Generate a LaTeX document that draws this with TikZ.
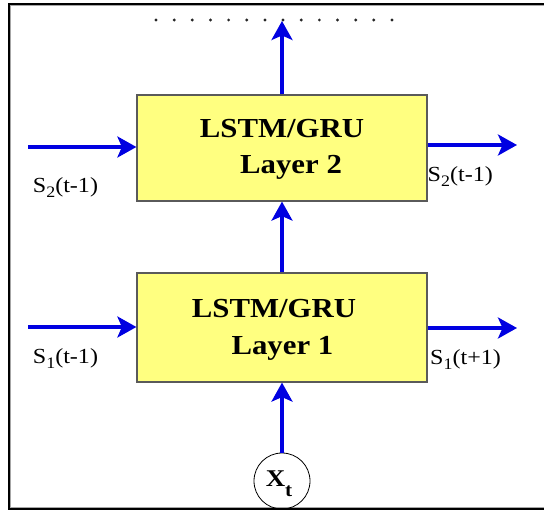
\documentclass[tikz,border=0pt]{standalone}
\usepackage{fontspec}
\setmainfont{Liberation Serif}
\newfontfamily\boxfont{Liberation Serif}[FakeStretch=1.12]
\newfontfamily\lblfont{Liberation Serif}[FakeStretch=1.12]
\usetikzlibrary{arrows.meta}
\definecolor{flow}{RGB}{0,0,225}
\definecolor{cellfill}{RGB}{255,255,128}
\definecolor{cellline}{RGB}{90,90,90}
% lowered index used in the state labels
\newcommand\lowidx[1]{\raisebox{-5pt}{\fontsize{16}{16}\selectfont #1}}

\begin{document}
\begin{tikzpicture}[x=1pt,y=-1pt,
  cell/.style={draw=cellline, line width=1.2pt, fill=cellfill, minimum width=290pt, inner sep=0pt},
  flowarrow/.style={draw=flow, line width=3.2pt, -{Stealth[length=19pt,width=21pt,inset=4.5pt]}},
  celltext/.style={anchor=base, inner sep=0pt, font=\boxfont\bfseries\fontsize{27.5}{30}\selectfont},
  statelbl/.style={anchor=base west, inner sep=0pt, font=\lblfont\fontsize{21.5}{24}\selectfont},
  dotmark/.style={circle, fill=black!85, inner sep=0pt, minimum size=3.2pt}
]
\useasboundingbox (0,0) rectangle (544,511);

% outer frame with a soft inner shade
\draw[black!35, line width=1pt] (10.8,5.8) rectangle (560,507.2);
\draw[black, line width=1.8pt] (9,4) rectangle (560,509);

% recurrent layers
\node[cell, minimum height=106pt] (L2) at (282,148) {};
\node[cell, minimum height=109pt] (L1) at (282,327.5) {};

\node[celltext] (L2a) at (282,137.7) {LSTM/GRU};
\node[celltext] (L2b) at (291,173.3) {Layer 2};
\node[celltext] (L1a) at (274,317.7) {LSTM/GRU};
\node[celltext] (L1b) at (282.4,354) {Layer 1};

% input at time t
\node[draw, circle, line width=0.8pt, minimum size=56pt, inner sep=0pt] (x) at (282,481) {};
\node[anchor=base, inner sep=0pt, font=\boxfont\bfseries\fontsize{24}{26}\selectfont] (xt) at (279,486)
  {X\raisebox{-10pt}{\fontsize{19}{19}\selectfont t}};

% vertical data flow
\coordinate (top) at (282,21);
\draw[flowarrow] (x.north) -- (L1.south);
\draw[flowarrow] (L1.north) -- (L2.south);
\draw[flowarrow] (L2.north) -- (top);

% continuation dots above the stack
\foreach \i in {0,...,13}
  \node[dotmark] (d\i) at ({156+18.15*\i},20) {};

% hidden state in / out
\coordinate (in2) at (28,147);
\coordinate (out2) at (517,145);
\coordinate (in1) at (28,327);
\coordinate (out1) at (517,328);
\draw[flowarrow] (in2) -- (in2 -| L2.west);
\draw[flowarrow] (L2.east |- out2) -- (out2);
\draw[flowarrow] (in1) -- (in1 -| L1.west);
\draw[flowarrow] (L1.east |- out1) -- (out1);

\node[statelbl] (s2in) at (32.7,192) {S\lowidx{2}(t-1)};
\node[statelbl] (s2out) at (427.5,181) {S\lowidx{2}(t-1)};
\node[statelbl] (s1in) at (32.7,363) {S\lowidx{1}(t-1)};
\node[statelbl] (s1out) at (430,364) {S\lowidx{1}(t+1)};
\end{tikzpicture}
\end{document}
